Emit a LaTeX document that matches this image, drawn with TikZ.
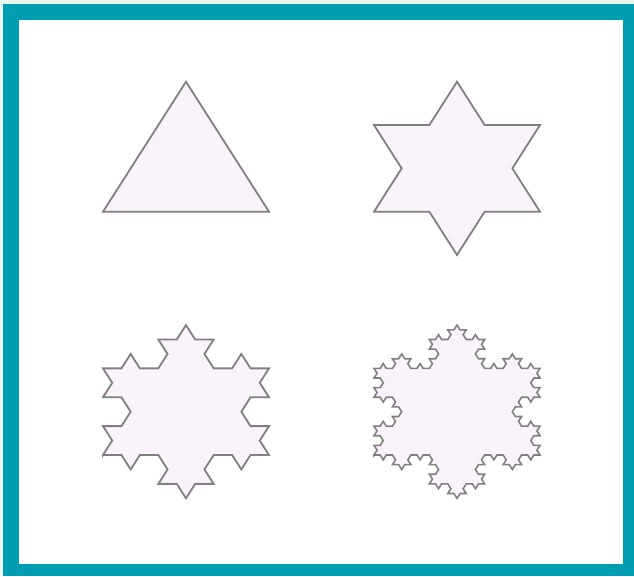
\documentclass[tikz,border=0pt]{standalone}
\usetikzlibrary{lindenmayersystems}
\definecolor{teal0}{RGB}{0,158,176}
\definecolor{mint}{RGB}{234,250,238}
\definecolor{flake}{RGB}{251,243,251}
\definecolor{edge}{RGB}{128,128,128}
\pgfdeclarelindenmayersystem{Koch}{\rule{F -> F-F++F-F}}
\tikzset{
  kochshape/.style={fill=flake, draw=edge, line width=1.8pt, line join=miter},
}
\begin{document}
\begin{tikzpicture}[x=1pt,y=1pt]
\useasboundingbox (0,0) rectangle (634,576);
\fill[mint] (0,0) rectangle (634,576);
\fill[teal0] (3,0) rectangle (634,572);
\fill[white] (19,12) rectangle (623,556);
% order 0
\begin{scope}[shift={(103,364.3)}, yscale=0.904]
  \path[kochshape] [l-system={Koch, axiom=F++F++F, order=0, step=166pt, angle=60}] lindenmayer system -- cycle;
\end{scope}
% order 1
\begin{scope}[shift={(374,364.3)}, yscale=0.904]
  \path[kochshape] [l-system={Koch, axiom=F++F++F, order=1, step=55.333pt, angle=60}] lindenmayer system -- cycle;
\end{scope}
% order 2
\begin{scope}[shift={(103,121)}, yscale=0.904]
  \path[kochshape] [l-system={Koch, axiom=F++F++F, order=2, step=18.444pt, angle=60}] lindenmayer system -- cycle;
\end{scope}
% order 3
\begin{scope}[shift={(374,121)}, yscale=0.904]
  \path[kochshape, line width=1.6pt] [l-system={Koch, axiom=F++F++F, order=3, step=6.148pt, angle=60}] lindenmayer system -- cycle;
\end{scope}
\end{tikzpicture}
\end{document}
